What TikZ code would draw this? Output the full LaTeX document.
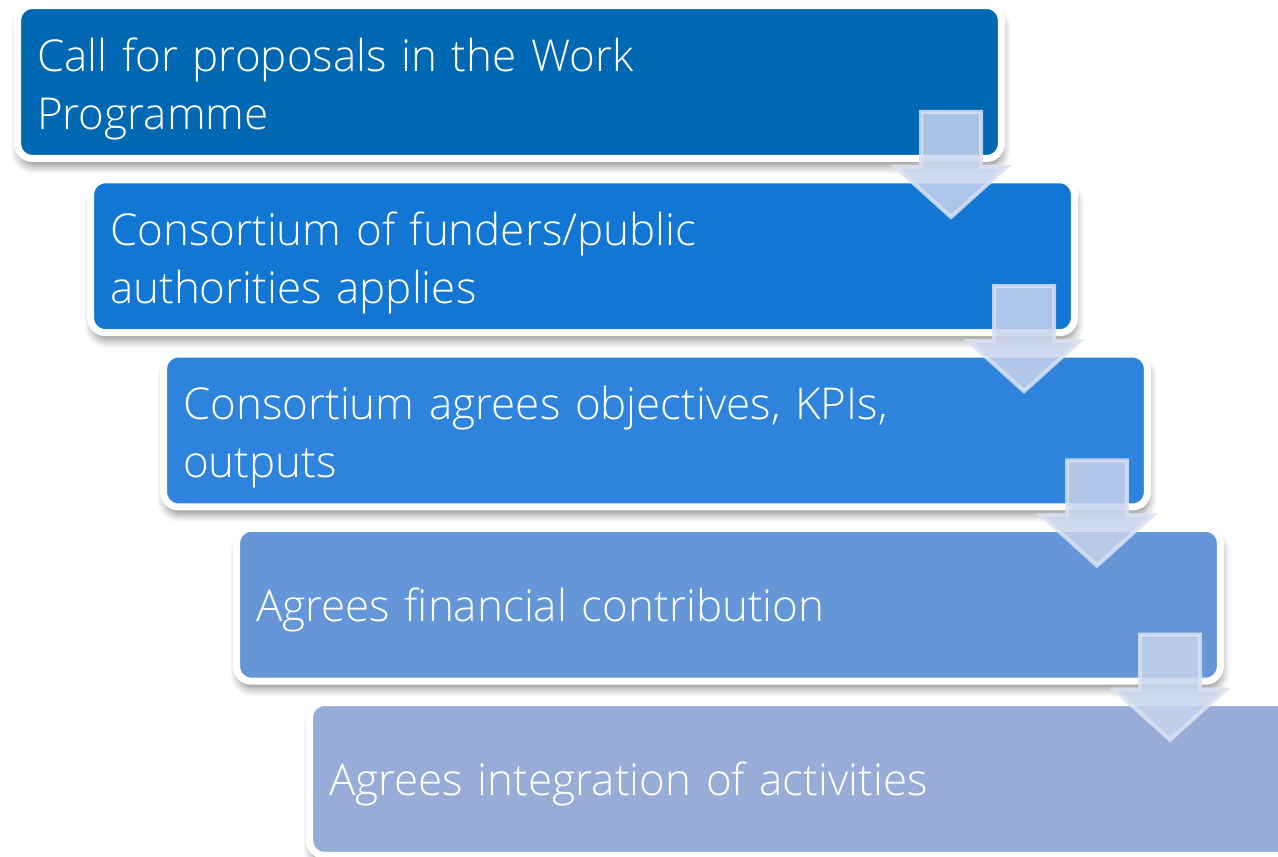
\documentclass[tikz,border=0pt]{standalone}
\usepackage{fontspec}
\setmainfont{Open Sans}[UprightFont=* Light]
\usetikzlibrary{calc,shadows.blur}
\definecolor{stepA}{RGB}{0,103,178}
\definecolor{stepB}{RGB}{18,118,212}
\definecolor{stepC}{RGB}{46,131,221}
\definecolor{stepD}{RGB}{100,150,216}
\definecolor{stepE}{RGB}{151,173,216}
\definecolor{arrowfill}{RGB}{200,212,236}
\definecolor{arrowedge}{RGB}{218,225,242}
\tikzset{
    stepbox/.style={rectangle, draw=white, line width=0.14cm, rounded corners=0.3cm,
        minimum width=19.68cm, minimum height=3.06cm, text width=18.9cm, inner xsep=0.39cm,
        align=left, text=white, font=\fontsize{25}{33}\selectfont,
        execute at end node={\par\vspace*{-0.28cm}},
        blur shadow={shadow xshift=0.3mm, shadow yshift=-1.5mm, shadow blur radius=1.6mm, shadow blur steps=8, shadow opacity=45}}, % one step of the process
    flowarrow/.style={fill=arrowfill, fill opacity=0.85, draw=arrowedge, draw opacity=0.85, line width=0.08cm} % arrow between steps
}

\begin{document}
\begin{tikzpicture}[x=0.02cm, y=-0.02cm]
    \useasboundingbox (0,0) rectangle (1278,857);

    \foreach \i/\col/\txt in {1/stepA/{Call for proposals in the Work\\Programme},
        2/stepB/{Consortium of funders/public\\authorities applies},
        3/stepC/{Consortium agrees objectives, KPIs,\\outputs},
        4/stepD/{Agrees financial contribution},
        5/stepE/{Agrees integration of activities}} {
        \node[stepbox, fill=\col] (b\i) at ({509.5+73*(\i-1)}, {82+174.25*(\i-1)}) {\txt};
    }

    \foreach \i in {1,...,4} {
        \draw[flowarrow] ($(b\i.center)+(441.5,135)$) coordinate (t\i) -- ++(-55.5,-50) -- ++(25.5,0) -- ++(0,-55) -- ++(60,0) -- ++(0,55) -- ++(25.5,0) -- cycle;
    }
\end{tikzpicture}
\end{document}
